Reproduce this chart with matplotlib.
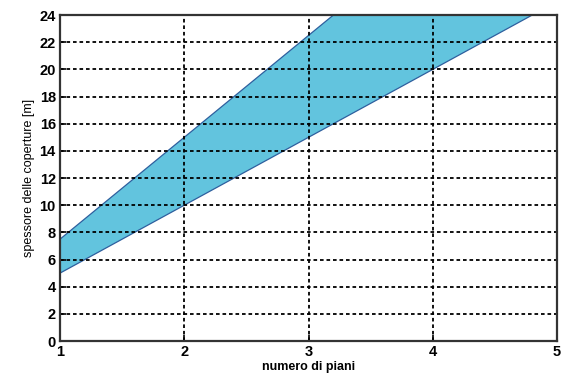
import matplotlib.pyplot as plt

# numero di piani e limiti della fascia di spessore
piani = [1, 2, 3, 4, 5]
spessore_min = [5, 10, 15, 20, 25]
spessore_max = [7.5, 15, 22.5, 30, 37.5]

plt.rcParams['font.family'] = ['Liberation Sans', 'DejaVu Sans']

fig = plt.figure(figsize=(5.61, 3.76), dpi=100)
ax = fig.add_axes([0.107, 0.093, 0.886, 0.867])

ax.fill_between(piani, spessore_min, spessore_max, facecolor='#62c4de',
                edgecolor='none', zorder=1)
ax.plot(piani, spessore_min, color='#2e5f9e', lw=0.9, zorder=2)
ax.plot(piani, spessore_max, color='#2e5f9e', lw=0.9, zorder=2)

ax.set_xlim(1, 5)
ax.set_ylim(0, 24)
ax.set_xticks(piani)
ax.set_yticks(range(0, 25, 2))

ax.grid(True, color='black', linestyle=(0, (2.0, 1.6)), linewidth=1.3, zorder=3)
ax.set_axisbelow(False)

for s in ax.spines.values():
    s.set_linewidth(1.6)
    s.set_color('#333333')
    s.set_zorder(4)

ax.tick_params(direction='in', length=4, width=1.2, labelsize=10.5, pad=3)
for lab in ax.get_xticklabels() + ax.get_yticklabels():
    lab.set_fontweight('bold')

ax.set_xlabel('numero di piani', fontsize=9, fontweight='bold', labelpad=1)
ax.set_ylabel('spessore delle coperture [m]', fontsize=9, labelpad=3)

fig.savefig('out.png', dpi=100)
